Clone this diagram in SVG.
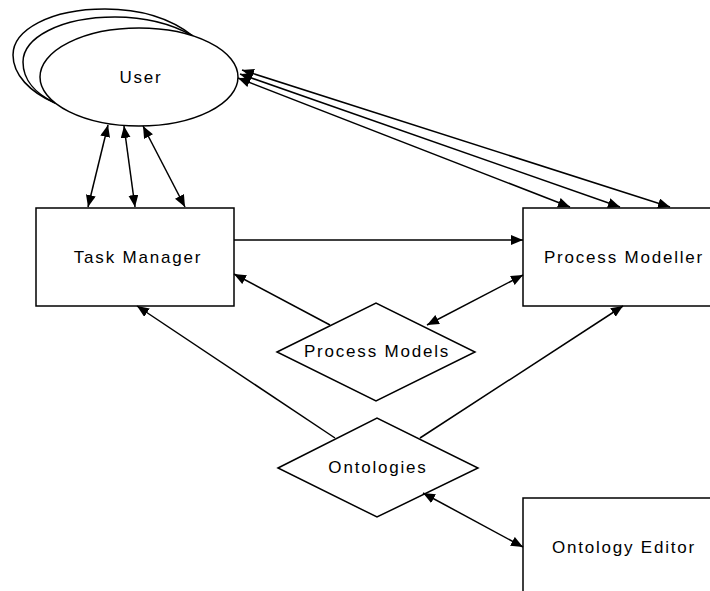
<svg xmlns="http://www.w3.org/2000/svg" width="710" height="591" viewBox="0 0 710 591">
<style>
.n{fill:#fff;stroke:#000;stroke-width:1.5}
.b{fill:none;stroke:#000;stroke-width:1.5}
.t{font-family:"Liberation Sans",Arial,sans-serif;font-size:17px;letter-spacing:1.8px;text-anchor:middle;fill:#000}
.c line{stroke:#000;stroke-width:1.5}
</style>
<defs>
<marker id="ah" markerUnits="userSpaceOnUse" markerWidth="13" markerHeight="11" refX="12" refY="5" orient="auto-start-reverse">
<path d="M0,0 L12,5 L0,10 z" fill="#000"/>
</marker>
</defs>
<g id="user">
<path class="b" d="M193,36 C170,18 140,9 105,9 C50,9 13,30 13,55 C13,75 30,92 55,103"/>
<path class="b" d="M193,36 C172,24 145,17 115,17 C60,17 23,38 23,62 C23,80 36,94 55,103"/>
<ellipse class="n" cx="139" cy="77" rx="99" ry="49"/>
<text class="t" x="141" y="83">User</text>
</g>
<g id="task-manager">
<rect class="n" x="36" y="208" width="198" height="98"/>
<text class="t" x="138" y="263">Task Manager</text>
</g>
<g id="process-modeller">
<rect class="n" x="523" y="208" width="200" height="98"/>
<text class="t" x="624" y="263">Process Modeller</text>
</g>
<g id="process-models">
<polygon class="n" points="277,352 376,303 475,352 376,401"/>
<text class="t" x="377" y="357">Process Models</text>
</g>
<g id="ontologies">
<polygon class="n" points="278,468 377,418 478,468 377,517"/>
<text class="t" x="378" y="473">Ontologies</text>
</g>
<g id="ontology-editor">
<rect class="n" x="523" y="498" width="200" height="100"/>
<text class="t" x="624" y="553">Ontology Editor</text>
</g>
<g class="c" id="connectors">
<line x1="108" y1="125" x2="88" y2="207" marker-start="url(#ah)" marker-end="url(#ah)"/>
<line x1="124" y1="126" x2="135" y2="207" marker-start="url(#ah)" marker-end="url(#ah)"/>
<line x1="143" y1="126" x2="185" y2="207" marker-start="url(#ah)" marker-end="url(#ah)"/>
<line x1="242" y1="70" x2="670" y2="207" marker-start="url(#ah)" marker-end="url(#ah)"/>
<line x1="240" y1="74" x2="620" y2="207" marker-start="url(#ah)" marker-end="url(#ah)"/>
<line x1="238" y1="78" x2="570" y2="207" marker-start="url(#ah)" marker-end="url(#ah)"/>
<line x1="234" y1="240" x2="523" y2="240" marker-end="url(#ah)"/>
<line x1="330" y1="325" x2="234" y2="274" marker-end="url(#ah)"/>
<line x1="427" y1="325" x2="523" y2="275" marker-start="url(#ah)" marker-end="url(#ah)"/>
<line x1="335" y1="438" x2="137" y2="306" marker-end="url(#ah)"/>
<line x1="420" y1="438" x2="623" y2="306" marker-end="url(#ah)"/>
<line x1="423" y1="493" x2="523" y2="547" marker-start="url(#ah)" marker-end="url(#ah)"/>
</g>
</svg>
